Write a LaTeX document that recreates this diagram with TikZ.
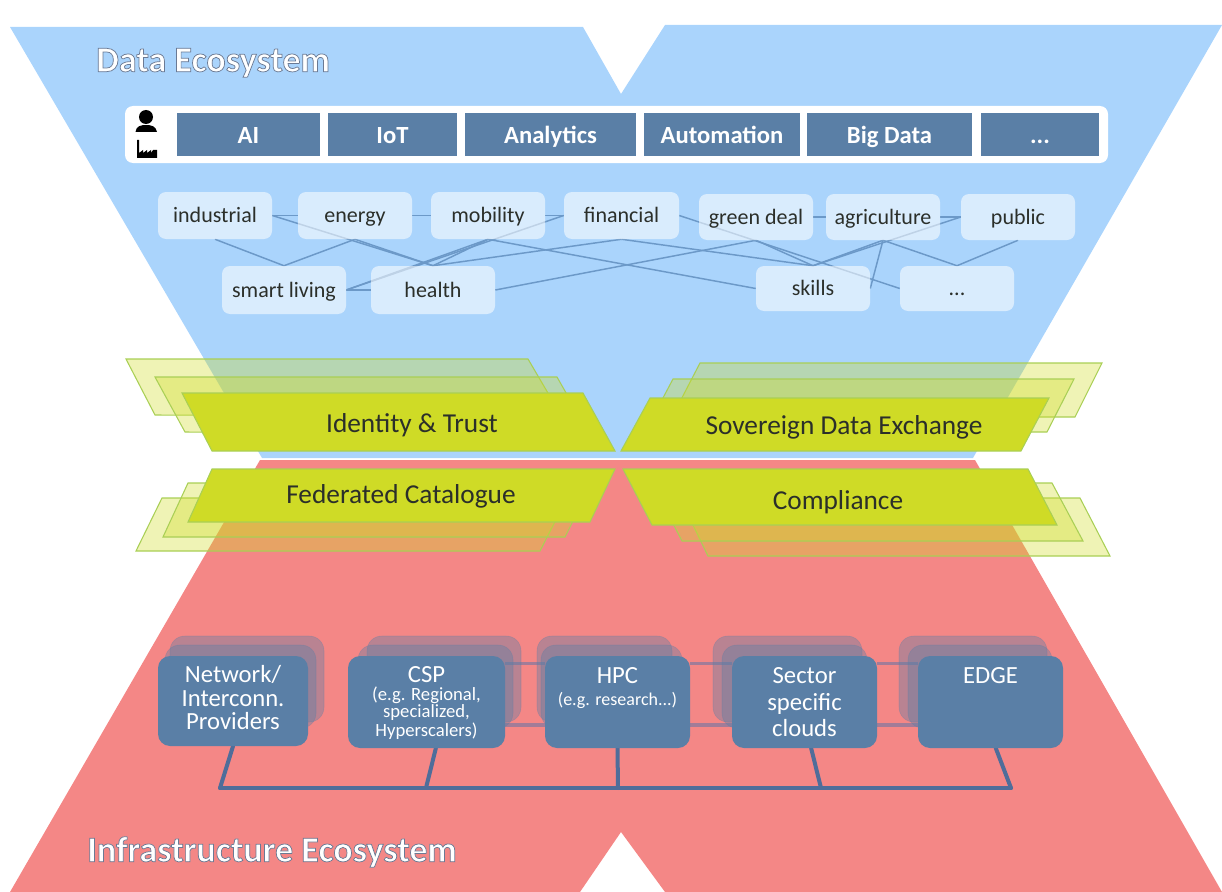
\documentclass[tikz,border=0pt]{standalone}
\usepackage{fontspec}
\setmainfont{Carlito}
\definecolor{skyc}{HTML}{AAD4FC}
\definecolor{redc}{HTML}{F48786}
\definecolor{boxc}{HTML}{5A7FA6}
\definecolor{busc}{HTML}{4F6D9A}
\definecolor{linec}{HTML}{6C99C8}
\definecolor{limec}{HTML}{CFDB26}
\definecolor{limeb}{HTML}{A9CF55}
\definecolor{linkc}{HTML}{A27C98}
\definecolor{txtc}{HTML}{2B2F2A}
\pgfdeclarelayer{ground}
\pgfdeclarelayer{conn}
\pgfsetlayers{ground,conn,main}
\newcommand{\pbox}[7]{%
  \pgfmathsetmacro\cx{(#3+#5)/2}\pgfmathsetmacro\cy{(#4+#6)/2}%
  \pgfmathsetmacro\ww{(#5-#3)*.75}\pgfmathsetmacro\hh{(#6-#4)*.75}%
  \node[#1,minimum width=\ww pt,minimum height=\hh pt,inner sep=0pt] (#2) at (\cx,\cy) {#7};}
\newcommand{\glowtext}[1]{\special{pdf:code q 2 Tr 0.55 w 0.42 0.48 0.58 RG}#1\special{pdf:code Q}}
\newcommand{\smtxt}{\fontsize{13.5}{15}\selectfont}
\newcommand{\smtxtb}{\fontsize{14}{15}\selectfont}
\newcommand{\lineat}[2]{\makebox[0pt]{\raisebox{#1}[0pt][0pt]{#2}}}
\tikzset{
  x=0.75pt,y=-0.75pt,
  appbox/.style={fill=boxc,text=white,text height=15pt,text depth=2.2pt,font=\fontsize{18.5}{20}\selectfont\bfseries},
  whitebar/.style={fill=white,rounded corners=6pt},
  domnode/.style={fill=white,fill opacity=.56,text opacity=1,rounded corners=6pt,text=txtc,text height=13pt,text depth=2pt,font=\fontsize{16.5}{18}\selectfont},
  domlink/.style={draw=linec,line width=1.1pt},
  layerA/.style={fill=limec,draw=limeb,line width=.8pt},
  layerB/.style={fill=limec,fill opacity=.34,draw=limeb,line width=.8pt},
  layertext/.style={text=txtc,text height=14pt,text depth=3.5pt,font=\fontsize{20.5}{22}\selectfont},
  prov/.style={fill=boxc,rounded corners=9pt,text=white,font=\fontsize{18.5}{20}\selectfont},
  provback/.style={fill=boxc,fill opacity=.38,draw=boxc,draw opacity=.3,rounded corners=11pt},
  buslink/.style={draw=busc,line width=3pt,line cap=round},
  provlinkA/.style={draw=linkc,line width=2.6pt},
  provlinkB/.style={draw=linkc,line width=3pt},
  ecotitle/.style={text=white,text height=19.5pt,text depth=3.5pt,font=\fontsize{27}{29}\selectfont\bfseries},
  icon/.style={fill=black,draw=none}
}
\begin{document}
\begin{tikzpicture}
\useasboundingbox (0,0) rectangle (1222,892);
\begin{pgfonlayer}{ground}
\fill[skyc] (10,27) -- (583,27) -- (621,94) -- (665,25) -- (1222,25) -- (973,458) -- (262,458) -- cycle;
\fill[redc] (260,460) -- (975,460) -- (1222,892) -- (665,892) -- (621,832) -- (580,892) -- (10,892) -- cycle;
\end{pgfonlayer}

% top bar
\pbox{whitebar}{bar}{125}{106}{1108}{163}{}
\pbox{appbox}{ai}{177}{113}{320}{156}{AI}
\pbox{appbox}{iot}{328}{113}{457}{156}{IoT}
\pbox{appbox}{analytics}{465}{113}{636}{156}{Analytics}
\pbox{appbox}{automation}{644}{113}{800}{156}{Automation}
\pbox{appbox}{bigdata}{807}{113}{972}{156}{Big Data}
\pbox{appbox}{moreapps}{981}{113}{1099}{156}{...}
% icons
\fill[icon] (146,117) circle (7);
\fill[icon] (135.5,132) .. controls (136,126) and (141,125) .. (146,125) .. controls (151,125) and (156,126) .. (157,132) -- cycle;
\fill[icon] (137,140) -- (139,140) -- (139,153) -- (143,150) -- (143,153) -- (147,150) -- (147,153) -- (151,150) -- (151,153) -- (153,150) -- (157,150) -- (157,158) -- (137,158) -- cycle;

% domains
\pbox{domnode}{industrial}{158}{192}{272}{239}{industrial}
\pbox{domnode}{energy}{298}{192}{412}{239}{energy}
\pbox{domnode}{mobility}{431}{192}{545}{239}{mobility}
\pbox{domnode}{financial}{564}{192}{679}{239}{financial}
\pbox{domnode}{green}{699}{194}{813}{240}{green deal}
\pbox{domnode}{agri}{826}{194}{940}{240}{agriculture}
\pbox{domnode}{public}{961}{194}{1075}{240}{public}
\pbox{domnode}{smart}{222}{266}{346}{314}{smart living}
\pbox{domnode}{health}{371}{266}{495}{314}{health}
\pbox{domnode}{skills}{756}{266}{870}{311}{skills}
\pbox{domnode}{moredom}{900}{266}{1014}{311}{...}

\begin{pgfonlayer}{conn}
\draw[domlink] (industrial.east) -- (energy.west);
\draw[domlink] (energy.east) -- (mobility.west);
\draw[domlink] (mobility.east) -- (financial.west);
\draw[domlink] (green.east) -- (agri.west);
\draw[domlink] (agri.east) -- (public.west);
\draw[domlink] (smart.east) -- (health.west);
\draw[domlink] (industrial.east) -- (health.north);
\draw[domlink] (industrial.south) -- (smart.north);
\draw[domlink] (energy.south) -- (smart.north);
\draw[domlink] (energy.south) -- (health.north);
\draw[domlink] (mobility.south) -- (health.north);
\draw[domlink] (mobility.south) -- (smart.east);
\draw[domlink] (smart.east) -- (financial.west);
\draw[domlink] (health.north) -- (financial.south);
\draw[domlink] (health.east) -- (green.south);
\draw[domlink] (mobility.south) -- (skills.west);
\draw[domlink] (financial.south) -- (skills.north);
\draw[domlink] (green.south) -- (skills.north);
\draw[domlink] (financial.east) -- (moredom.west);
\draw[domlink] (skills.north) -- (agri.south);
\draw[domlink] (skills.north) -- (public.west);
\draw[domlink] (skills.east) -- (agri.south);
\draw[domlink] (agri.south) -- (moredom.north);
\draw[domlink] (public.south) -- (moredom.north);
\end{pgfonlayer}

% layers
\draw[layerB] (126,359) -- (528,359) -- (562,417) -- (155,415) -- cycle;
\draw[layerB] (155,377) -- (557,377) -- (590,435) -- (185,432) -- cycle;
\draw[layerA] (182,393) -- (583,393) -- (615,451) -- (212,451) -- cycle;
\node[layertext] (identity) at (412,425) {Identity \& Trust};

\draw[layerB] (162,498) -- (567,498) -- (540,551) -- (136,551) -- cycle;
\draw[layerB] (188,483) -- (592,483) -- (565,537) -- (163,537) -- cycle;
\draw[layerA] (212,469) -- (615,469) -- (590,522) -- (188,522) -- cycle;
\node[layertext] (catalogue) at (401,496) {Federated Catalogue};

\draw[layerB] (700,363) -- (1102,363) -- (1075,417) -- (672,417) -- cycle;
\draw[layerB] (673,379) -- (1074,379) -- (1047,432) -- (645,432) -- cycle;
\draw[layerA] (650,398) -- (1049,398) -- (1021,451) -- (621,451) -- cycle;
\node[layertext] (sovereign) at (844,427) {Sovereign Data Exchange};

\draw[layerB] (680,498) -- (1080,498) -- (1110,556) -- (708,556) -- cycle;
\draw[layerB] (652,483) -- (1052,483) -- (1083,541) -- (682,541) -- cycle;
\draw[layerA] (623,469) -- (1028,469) -- (1057,525) -- (652,525) -- cycle;
\node[layertext] (compliance) at (838,502) {Compliance};

% provider stacks
\pbox{provback}{netc}{170}{636}{324}{722}{}
\pbox{provback}{netb}{165}{645}{316}{728}{}
\pbox{provback}{cspc}{367}{636}{521}{722}{}
\pbox{provback}{cspb}{358}{645}{513}{728}{}
\pbox{provback}{hpcc}{537}{636}{672}{722}{}
\pbox{provback}{hpcb}{541}{645}{682}{728}{}
\pbox{provback}{secc}{713}{636}{862}{722}{}
\pbox{provback}{secb}{722}{645}{867}{728}{}
\pbox{provback}{edgc}{899}{636}{1047}{722}{}
\pbox{provback}{edgb}{908}{645}{1052}{728}{}

\pbox{prov}{net}{158}{656}{308}{746}{\lineat{14.25pt}{Network/}\lineat{-3.75pt}{Interconn.}\lineat{-21pt}{Providers}}
\pbox{prov}{csp}{348}{656}{505}{748}{\lineat{15pt}{CSP}\lineat{1.5pt}{\smtxtb (e.g. Regional,}\lineat{-11.25pt}{\smtxtb specialized,}\lineat{-25.5pt}{\smtxtb Hyperscalers)}}
\pbox{prov}{hpc}{545}{656}{690}{748}{\lineat{14.25pt}{HPC}\lineat{-2.25pt}{\smtxt (e.g. research...)}}
\pbox{prov}{sector}{732}{656}{877}{748}{\lineat{14.25pt}{Sector}\lineat{-6pt}{specific}\lineat{-25.5pt}{clouds}}
\pbox{prov}{edge}{918}{656}{1063}{748}{\lineat{14.25pt}{EDGE}}

\coordinate (b1) at (220,788);
\coordinate (b2) at (426,788);
\coordinate (b3) at (618,788);
\coordinate (b4) at (821,788);
\coordinate (b5) at (1011,788);
\begin{pgfonlayer}{conn}
\draw[buslink] (b1) -- (b2) -- (b3) -- (b4) -- (b5);
\draw[buslink] (net.south) -- (b1);
\draw[buslink] ([xshift=7pt]csp.south) -- (b2);
\draw[buslink] (hpc.south) -- (b3);
\draw[buslink] ([xshift=5pt]sector.south) -- (b4);
\draw[buslink] ([xshift=4pt]edge.south) -- (b5);
\draw[provlinkA] ([yshift=29pt]csp.east) -- ([yshift=29pt]hpc.west);
\draw[provlinkB] ([yshift=-17pt]csp.east) -- ([yshift=-17pt]hpc.west);
\draw[provlinkA] ([yshift=29pt]hpc.east) -- ([yshift=29pt]sector.west);
\draw[provlinkB] ([yshift=-17pt]hpc.east) -- ([yshift=-17pt]sector.west);
\draw[provlinkA] ([yshift=29pt]sector.east) -- ([yshift=29pt]edge.west);
\draw[provlinkB] ([yshift=-17pt]sector.east) -- ([yshift=-17pt]edge.west);
\end{pgfonlayer}

\node[ecotitle] (dataeco) at (213,61) {\glowtext{Data Ecosystem}};
\node[ecotitle] (infraeco) at (272,851) {\glowtext{Infrastructure Ecosystem}};
\end{tikzpicture}
\end{document}
